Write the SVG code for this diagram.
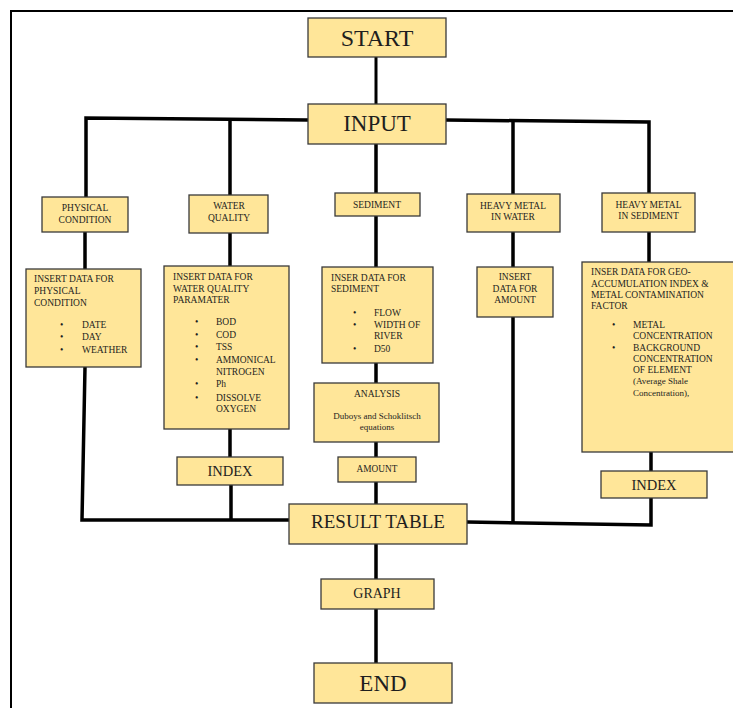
<svg xmlns="http://www.w3.org/2000/svg" width="733" height="708" viewBox="0 0 733 708">
<style>
.box{fill:#FFE699;stroke:#3a3a3a;stroke-width:1.3}
.t{font-family:"Liberation Serif","Times New Roman",serif;fill:#1e1e1e}
.c{text-anchor:middle}
.s{font-size:9.5px}
.ln{fill:none;stroke:#000;stroke-width:3.5;stroke-linejoin:miter}
</style>
<rect width="733" height="708" fill="#fff"/>
<path d="M734,11 H11 V709" fill="none" stroke="#000" stroke-width="2"/>
<g id="connectors">
<path class="ln" style="stroke-width:3" d="M376,57 V104"/>
<path class="ln" d="M86,197 V118 L308,120 M446,120 L649,122 V193"/>
<path class="ln" d="M230,119 V195 M513,121 V194"/>
<path class="ln" d="M85,232 V269 M85,367 L82,520 H289"/>
<path class="ln" d="M230,233 V266 M230,429 V457 M231,485 V520"/>
<path class="ln" d="M376,144 V193 M376,216 V267 M376,363 V383 M376,442 V457 M376,482 V504 M376,544 V579 M376,609 V663"/>
<path class="ln" d="M513,232 V267 M513,317 V522"/>
<path class="ln" d="M467,522 L651,525 V498"/>
<path class="ln" d="M649,232 V262 M651,452 V471"/>
</g>
<g id="start"><rect class="box" x="308" y="18" width="138" height="39"/><text class="t c" x="377" y="46" font-size="24">START</text></g>
<g id="input"><rect class="box" x="308" y="104" width="138" height="40"/><text class="t c" x="377" y="131" font-size="23">INPUT</text></g>
<g id="physical-condition"><rect class="box" x="42" y="197" width="86" height="35"/><text class="t c s" x="85" y="211">PHYSICAL</text><text class="t c s" x="85" y="222.5">CONDITION</text></g>
<g id="water-quality"><rect class="box" x="189" y="195" width="79" height="38"/><text class="t c s" x="229" y="209">WATER</text><text class="t c s" x="229" y="220.7">QUALITY</text></g>
<g id="sediment"><rect class="box" x="335" y="193" width="85" height="23"/><text class="t c s" x="377" y="207.5">SEDIMENT</text></g>
<g id="heavy-metal-water"><rect class="box" x="467" y="194" width="93" height="38"/><text class="t c s" x="513" y="208.5">HEAVY METAL</text><text class="t c s" x="513" y="220">IN WATER</text></g>
<g id="heavy-metal-sediment"><rect class="box" x="602" y="193" width="93" height="39"/><text class="t c s" x="648.5" y="207.5">HEAVY METAL</text><text class="t c s" x="648.5" y="219">IN SEDIMENT</text></g>
<g id="insert-physical"><rect class="box" x="26" y="269" width="115" height="98"/>
<text class="t s" x="34" y="282">INSERT DATA FOR</text><text class="t s" x="34" y="294.3">PHYSICAL</text><text class="t s" x="34" y="305.7">CONDITION</text>
<g class="t s"><text x="60" y="328">•</text><text x="60" y="340.3">•</text><text x="60" y="353.3">•</text></g>
<text class="t s" x="82" y="328">DATE</text><text class="t s" x="82" y="340.3">DAY</text><text class="t s" x="82" y="353.3">WEATHER</text></g>
<g id="insert-water"><rect class="box" x="164" y="266" width="125" height="163"/>
<text class="t s" x="173" y="280">INSERT DATA FOR</text><text class="t s" x="173" y="291.7">WATER QUALITY</text><text class="t s" x="173" y="303.3">PARAMATER</text>
<g class="t s"><text x="195" y="325.3">•</text><text x="195" y="338">•</text><text x="195" y="350.3">•</text><text x="195" y="363.3">•</text><text x="195" y="387.3">•</text><text x="195" y="400.7">•</text></g>
<text class="t s" x="216" y="325.3">BOD</text><text class="t s" x="216" y="338">COD</text><text class="t s" x="216" y="350.3">TSS</text><text class="t s" x="216" y="363.3">AMMONICAL</text><text class="t s" x="216" y="375">NITROGEN</text><text class="t s" x="216" y="387.3">Ph</text><text class="t s" x="216" y="400.7">DISSOLVE</text><text class="t s" x="216" y="412.3">OXYGEN</text></g>
<g id="insert-sediment"><rect class="box" x="322" y="267" width="111" height="96"/>
<text class="t s" x="331" y="281">INSER DATA FOR</text><text class="t s" x="331" y="292.3">SEDIMENT</text>
<g class="t s"><text x="353" y="315.7">•</text><text x="353" y="327.7">•</text><text x="353" y="351.7">•</text></g>
<text class="t s" x="374" y="315.7">FLOW</text><text class="t s" x="374" y="327.7">WIDTH OF</text><text class="t s" x="374" y="339.3">RIVER</text><text class="t s" x="374" y="351.7">D50</text></g>
<g id="insert-amount"><rect class="box" x="477" y="267" width="76" height="50"/>
<text class="t c s" x="515" y="280">INSERT</text><text class="t c s" x="515" y="291.7">DATA FOR</text><text class="t c s" x="515" y="303.3">AMOUNT</text></g>
<g id="insert-geo"><rect class="box" x="582" y="262" width="156" height="190"/>
<text class="t s" x="591" y="275">INSER DATA FOR GEO-</text><text class="t s" x="591" y="286.7">ACCUMULATION INDEX &amp;</text><text class="t s" x="591" y="297.8">METAL CONTAMINATION</text><text class="t s" x="591" y="309.3">FACTOR</text>
<g class="t s"><text x="612" y="328.3">•</text><text x="612" y="351">•</text></g>
<text class="t s" x="633" y="328.3">METAL</text><text class="t s" x="633" y="339.3">CONCENTRATION</text><text class="t s" x="633" y="351">BACKGROUND</text><text class="t s" x="633" y="362.3">CONCENTRATION</text><text class="t s" x="633" y="373.3">OF ELEMENT</text>
<text class="t" x="633" y="384.3" font-size="9">(Average Shale</text><text class="t" x="633" y="395.7" font-size="9">Concentration),</text></g>
<g id="analysis"><rect class="box" x="314" y="383" width="125" height="59"/>
<text class="t c s" x="377" y="397.3">ANALYSIS</text><text class="t c" x="377" y="419" font-size="9">Duboys and Schoklitsch</text><text class="t c" x="377" y="430" font-size="9">equations</text></g>
<g id="index-water"><rect class="box" x="177" y="457" width="106" height="28"/><text class="t c" x="230" y="475.5" font-size="14.5">INDEX</text></g>
<g id="amount"><rect class="box" x="338" y="457" width="78" height="25"/><text class="t c" x="377" y="472" font-size="9.3">AMOUNT</text></g>
<g id="index-sediment"><rect class="box" x="601" y="471" width="106" height="27"/><text class="t c" x="654" y="490" font-size="14.5">INDEX</text></g>
<g id="result-table"><rect class="box" x="289" y="504" width="178" height="40"/><text class="t c" x="378" y="527.5" font-size="19">RESULT TABLE</text></g>
<g id="graph"><rect class="box" x="321" y="579" width="113" height="30"/><text class="t c" x="377" y="597.5" font-size="14">GRAPH</text></g>
<g id="end"><rect class="box" x="314" y="663" width="138" height="40"/><text class="t c" x="383" y="691" font-size="23">END</text></g>
</svg>
